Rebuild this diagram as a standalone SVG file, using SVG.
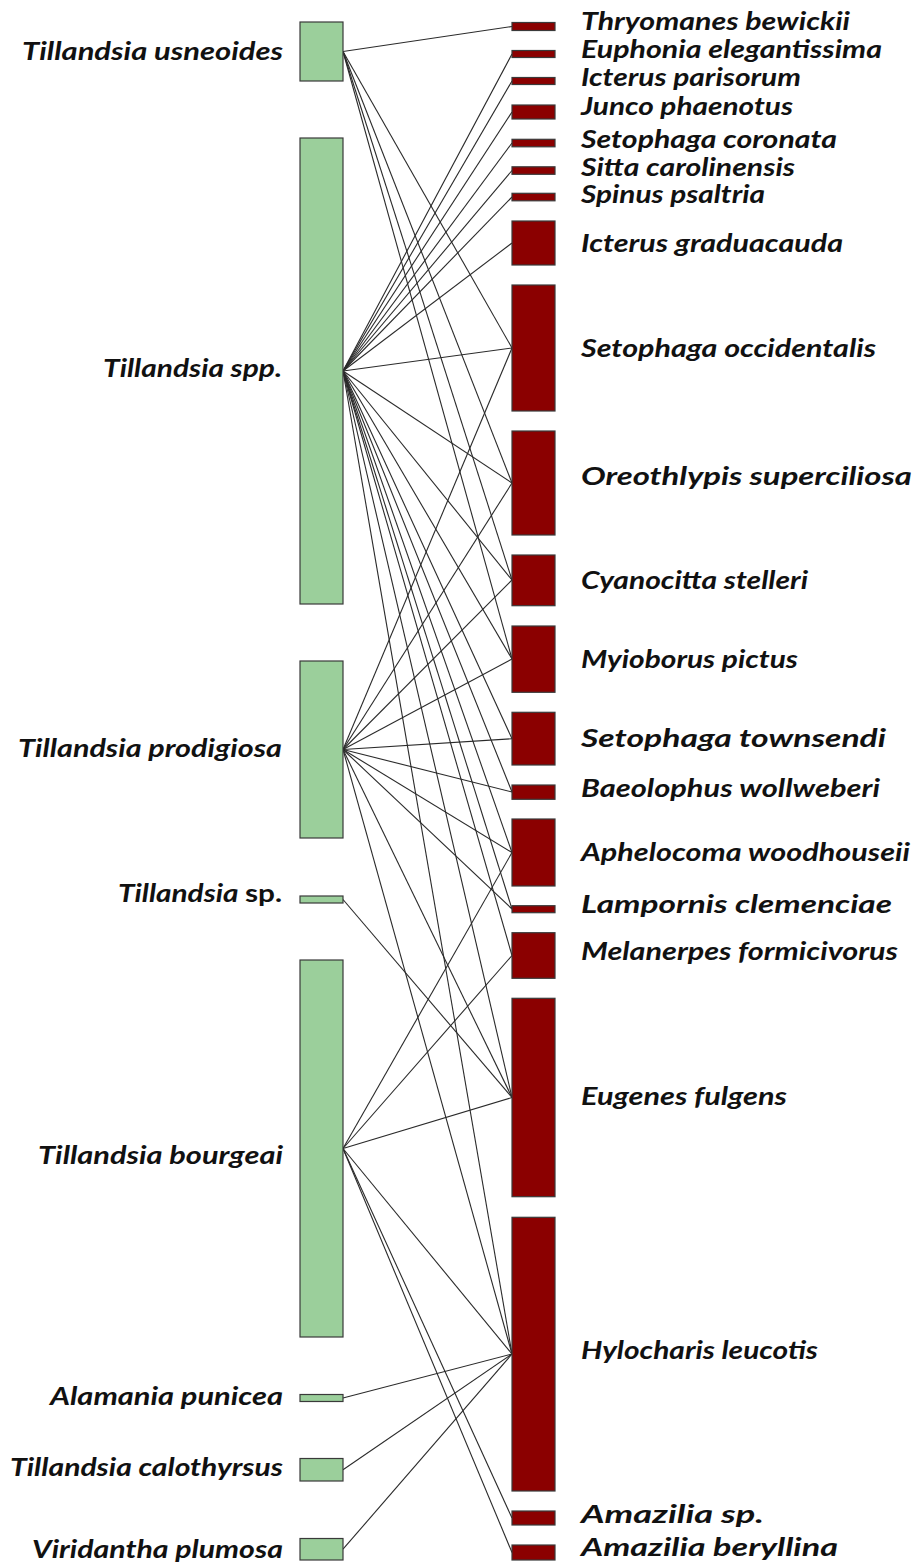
<svg xmlns="http://www.w3.org/2000/svg" width="918" height="1566" viewBox="0 0 918 1566">
<style>
.bg{fill:#ffffff}
.low{fill:#9bcf9b;stroke:#3a3a3a;stroke-width:1.2}
.high{fill:#8b0000;stroke:#3a3a3a;stroke-width:1.2}
.lk{stroke:#2a2a2a;stroke-width:1.1;fill:none}
.lbl{font-family:Lato,"Open Sans","Liberation Sans",sans-serif;font-weight:bold;font-style:italic;font-size:24.5px;fill:#111}
.l{text-anchor:end}
.up{font-style:normal}
</style>
<rect class="bg" x="0" y="0" width="918" height="1566"/>
<g id="connectors">
<line class="lk" x1="343" y1="51.5" x2="512" y2="26.5"/>
<line class="lk" x1="343" y1="51.5" x2="512" y2="348"/>
<line class="lk" x1="343" y1="51.5" x2="512" y2="483"/>
<line class="lk" x1="343" y1="51.5" x2="512" y2="580"/>
<line class="lk" x1="343" y1="51.5" x2="512" y2="659"/>
<line class="lk" x1="343" y1="371" x2="512" y2="54"/>
<line class="lk" x1="343" y1="371" x2="512" y2="81"/>
<line class="lk" x1="343" y1="371" x2="512" y2="112"/>
<line class="lk" x1="343" y1="371" x2="512" y2="143"/>
<line class="lk" x1="343" y1="371" x2="512" y2="170.5"/>
<line class="lk" x1="343" y1="371" x2="512" y2="197"/>
<line class="lk" x1="343" y1="371" x2="512" y2="243"/>
<line class="lk" x1="343" y1="371" x2="512" y2="348"/>
<line class="lk" x1="343" y1="371" x2="512" y2="483"/>
<line class="lk" x1="343" y1="371" x2="512" y2="580"/>
<line class="lk" x1="343" y1="371" x2="512" y2="659"/>
<line class="lk" x1="343" y1="371" x2="512" y2="738.7"/>
<line class="lk" x1="343" y1="371" x2="512" y2="792"/>
<line class="lk" x1="343" y1="371" x2="512" y2="852.5"/>
<line class="lk" x1="343" y1="371" x2="512" y2="909"/>
<line class="lk" x1="343" y1="371" x2="512" y2="955.5"/>
<line class="lk" x1="343" y1="371" x2="512" y2="1097.5"/>
<line class="lk" x1="343" y1="371" x2="512" y2="1354"/>
<line class="lk" x1="343" y1="749.5" x2="512" y2="348"/>
<line class="lk" x1="343" y1="749.5" x2="512" y2="483"/>
<line class="lk" x1="343" y1="749.5" x2="512" y2="580"/>
<line class="lk" x1="343" y1="749.5" x2="512" y2="659"/>
<line class="lk" x1="343" y1="749.5" x2="512" y2="738.7"/>
<line class="lk" x1="343" y1="749.5" x2="512" y2="792"/>
<line class="lk" x1="343" y1="749.5" x2="512" y2="852.5"/>
<line class="lk" x1="343" y1="749.5" x2="512" y2="909"/>
<line class="lk" x1="343" y1="749.5" x2="512" y2="1097.5"/>
<line class="lk" x1="343" y1="749.5" x2="512" y2="1354"/>
<line class="lk" x1="343" y1="899.5" x2="512" y2="1097.5"/>
<line class="lk" x1="343" y1="1148.5" x2="512" y2="852.5"/>
<line class="lk" x1="343" y1="1148.5" x2="512" y2="955.5"/>
<line class="lk" x1="343" y1="1148.5" x2="512" y2="1097.5"/>
<line class="lk" x1="343" y1="1148.5" x2="512" y2="1354"/>
<line class="lk" x1="343" y1="1148.5" x2="512" y2="1518"/>
<line class="lk" x1="343" y1="1148.5" x2="512" y2="1552.5"/>
<line class="lk" x1="343" y1="1398" x2="512" y2="1354"/>
<line class="lk" x1="343" y1="1469.7" x2="512" y2="1354"/>
<line class="lk" x1="343" y1="1549.2" x2="512" y2="1354"/>
</g>
<g id="low-tillandsia-usneoides"><rect class="low" x="300" y="22" width="43" height="59"/><text class="lbl l" x="283" y="60" textLength="261" lengthAdjust="spacingAndGlyphs">Tillandsia usneoides</text></g>
<g id="low-tillandsia-spp"><rect class="low" x="300" y="138" width="43" height="466"/><text class="lbl l" x="282" y="377" textLength="179" lengthAdjust="spacingAndGlyphs">Tillandsia spp.</text></g>
<g id="low-tillandsia-prodigiosa"><rect class="low" x="300" y="661" width="43" height="177"/><text class="lbl l" x="282" y="757" textLength="264" lengthAdjust="spacingAndGlyphs">Tillandsia prodigiosa</text></g>
<g id="low-tillandsia-sp"><rect class="low" x="300" y="896" width="43" height="7"/><text class="lbl l" x="282" y="902" textLength="164" lengthAdjust="spacingAndGlyphs">Tillandsia <tspan class="up">sp.</tspan></text></g>
<g id="low-tillandsia-bourgeai"><rect class="low" x="300" y="960" width="43" height="377"/><text class="lbl l" x="283" y="1164" textLength="245" lengthAdjust="spacingAndGlyphs">Tillandsia bourgeai</text></g>
<g id="low-alamania-punicea"><rect class="low" x="300" y="1394.5" width="43" height="7"/><text class="lbl l" x="283" y="1405" textLength="233" lengthAdjust="spacingAndGlyphs">Alamania punicea</text></g>
<g id="low-tillandsia-calothyrsus"><rect class="low" x="300" y="1458.5" width="43" height="22.5"/><text class="lbl l" x="283" y="1476" textLength="273" lengthAdjust="spacingAndGlyphs">Tillandsia calothyrsus</text></g>
<g id="low-viridantha-plumosa"><rect class="low" x="300" y="1538.5" width="43" height="21.5"/><text class="lbl l" x="283" y="1558" textLength="251" lengthAdjust="spacingAndGlyphs">Viridantha plumosa</text></g>
<g id="high-thryomanes-bewickii"><rect class="high" x="512" y="22.5" width="43" height="8"/><text class="lbl" x="581" y="30" textLength="269" lengthAdjust="spacingAndGlyphs">Thryomanes bewickii</text></g>
<g id="high-euphonia-elegantissima"><rect class="high" x="512" y="50.5" width="43" height="7"/><text class="lbl" x="581" y="57.5" textLength="301" lengthAdjust="spacingAndGlyphs">Euphonia elegantissima</text></g>
<g id="high-icterus-parisorum"><rect class="high" x="512" y="77.5" width="43" height="7"/><text class="lbl" x="581" y="86" textLength="220" lengthAdjust="spacingAndGlyphs">Icterus parisorum</text></g>
<g id="high-junco-phaenotus"><rect class="high" x="512" y="105" width="43" height="14"/><text class="lbl" x="581" y="115" textLength="212" lengthAdjust="spacingAndGlyphs">Junco phaenotus</text></g>
<g id="high-setophaga-coronata"><rect class="high" x="512" y="139.3" width="43" height="7.5"/><text class="lbl" x="581" y="148" textLength="256" lengthAdjust="spacingAndGlyphs">Setophaga coronata</text></g>
<g id="high-sitta-carolinensis"><rect class="high" x="512" y="166.8" width="43" height="7.5"/><text class="lbl" x="581" y="175.5" textLength="214" lengthAdjust="spacingAndGlyphs">Sitta carolinensis</text></g>
<g id="high-spinus-psaltria"><rect class="high" x="512" y="193.3" width="43" height="7.5"/><text class="lbl" x="581" y="202.7" textLength="184" lengthAdjust="spacingAndGlyphs">Spinus psaltria</text></g>
<g id="high-icterus-graduacauda"><rect class="high" x="512" y="221" width="43" height="44"/><text class="lbl" x="581" y="251.5" textLength="262" lengthAdjust="spacingAndGlyphs">Icterus graduacauda</text></g>
<g id="high-setophaga-occidentalis"><rect class="high" x="512" y="285" width="43" height="126"/><text class="lbl" x="581" y="356.5" textLength="295" lengthAdjust="spacingAndGlyphs">Setophaga occidentalis</text></g>
<g id="high-oreothlypis-superciliosa"><rect class="high" x="512" y="431" width="43" height="104"/><text class="lbl" x="581" y="484.5" textLength="331" lengthAdjust="spacingAndGlyphs">Oreothlypis superciliosa</text></g>
<g id="high-cyanocitta-stelleri"><rect class="high" x="512" y="555" width="43" height="50.7"/><text class="lbl" x="581" y="588.5" textLength="227" lengthAdjust="spacingAndGlyphs">Cyanocitta stelleri</text></g>
<g id="high-myioborus-pictus"><rect class="high" x="512" y="626" width="43" height="66.3"/><text class="lbl" x="581" y="667.5" textLength="217" lengthAdjust="spacingAndGlyphs">Myioborus pictus</text></g>
<g id="high-setophaga-townsendi"><rect class="high" x="512" y="712.3" width="43" height="52.7"/><text class="lbl" x="581" y="746.5" textLength="305" lengthAdjust="spacingAndGlyphs">Setophaga townsendi</text></g>
<g id="high-baeolophus-wollweberi"><rect class="high" x="512" y="785" width="43" height="14.3"/><text class="lbl" x="581" y="796.5" textLength="299" lengthAdjust="spacingAndGlyphs">Baeolophus wollweberi</text></g>
<g id="high-aphelocoma-woodhouseii"><rect class="high" x="512" y="819" width="43" height="67"/><text class="lbl" x="581" y="860.5" textLength="329" lengthAdjust="spacingAndGlyphs">Aphelocoma woodhouseii</text></g>
<g id="high-lampornis-clemenciae"><rect class="high" x="512" y="905.7" width="43" height="7"/><text class="lbl" x="581" y="912.5" textLength="311" lengthAdjust="spacingAndGlyphs">Lampornis clemenciae</text></g>
<g id="high-melanerpes-formicivorus"><rect class="high" x="512" y="932.7" width="43" height="45.6"/><text class="lbl" x="581" y="959.5" textLength="317" lengthAdjust="spacingAndGlyphs">Melanerpes formicivorus</text></g>
<g id="high-eugenes-fulgens"><rect class="high" x="512" y="998.3" width="43" height="198.4"/><text class="lbl" x="581" y="1104.5" textLength="206" lengthAdjust="spacingAndGlyphs">Eugenes fulgens</text></g>
<g id="high-hylocharis-leucotis"><rect class="high" x="512" y="1217.3" width="43" height="273.7"/><text class="lbl" x="581" y="1358.5" textLength="237" lengthAdjust="spacingAndGlyphs">Hylocharis leucotis</text></g>
<g id="high-amazilia-sp"><rect class="high" x="512" y="1511" width="43" height="14"/><text class="lbl" x="581" y="1522.5" textLength="183" lengthAdjust="spacingAndGlyphs">Amazilia sp.</text></g>
<g id="high-amazilia-beryllina"><rect class="high" x="512" y="1545" width="43" height="15"/><text class="lbl" x="581" y="1555.5" textLength="257" lengthAdjust="spacingAndGlyphs">Amazilia beryllina</text></g>
</svg>
